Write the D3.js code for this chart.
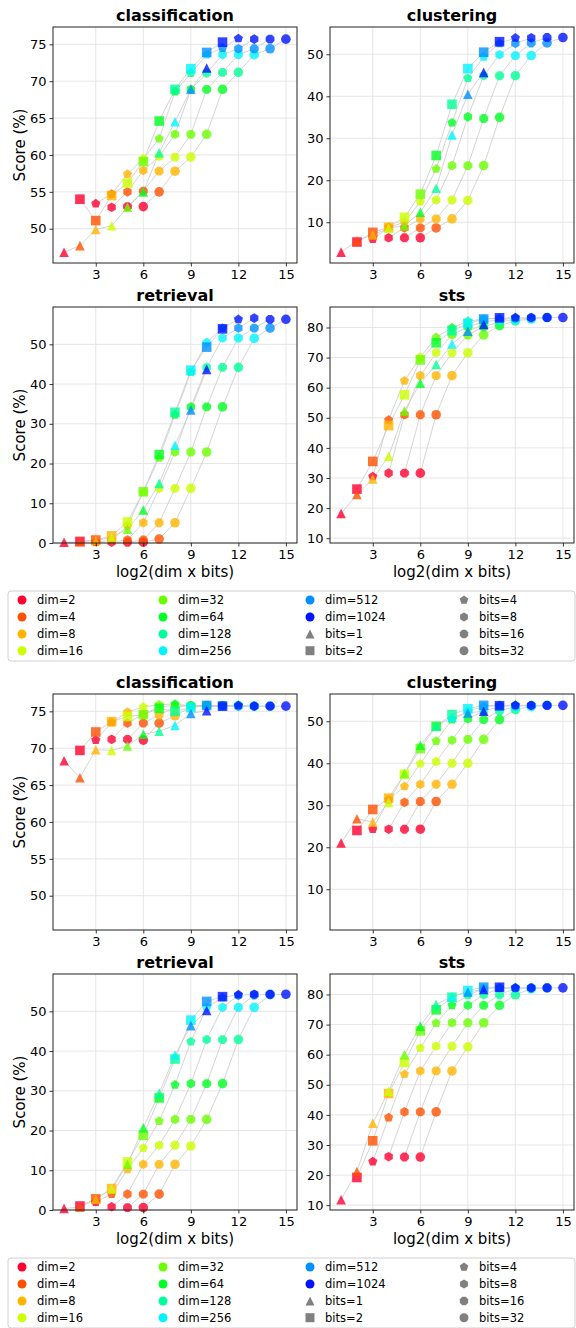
<!DOCTYPE html>
<html>
<head>
<meta charset="utf-8">
<script src="https://cdn.jsdelivr.net/npm/d3@7"></script>
<style>
  body { margin: 0; background: #fff; }
  text { font-family: "DejaVu Sans", sans-serif; fill: #000; }
</style>
</head>
<body>
<div id="chart"></div>
<script>
// categories
var dims = [2, 4, 8, 16, 32, 64, 128, 256, 512, 1024];
var bits = [1, 2, 4, 8, 16, 32];
var tasks = ["classification", "clustering", "retrieval", "sts"];

// tick labels
var xTicks = [3, 6, 9, 12, 15];
var classTicks = [50, 55, 60, 65, 70, 75];
var clusterTicks = [10, 20, 30, 40, 50];
var retrievalTicks = [0, 10, 20, 30, 40, 50];
var stsTicks = [10, 20, 30, 40, 50, 60, 70, 80];

// scores, one row per dim, one column per bits (1,2,4,8,16,32)
// upper figure
var topClassification = [
  [46.8, 54.0, 53.4, 52.9, 53.0, 53.0],
  [47.7, 51.1, 54.7, 55.0, 55.1, 55.0],
  [49.9, 54.5, 57.4, 57.9, 57.8, 57.8],
  [50.4, 56.2, 59.5, 59.8, 59.7, 59.7],
  [52.9, 59.1, 62.2, 62.8, 62.8, 62.8],
  [55.0, 64.6, 68.6, 68.9, 68.9, 68.9],
  [60.3, 68.9, 71.1, 71.1, 71.2, 71.2],
  [64.5, 71.7, 73.6, 73.6, 73.6, 73.6],
  [68.9, 73.9, 74.5, 74.4, 74.4, 74.4],
  [71.8, 75.3, 75.8, 75.7, 75.7, 75.7]
];
var topClustering = [
  [2.9, 5.3, 6.0, 6.3, 6.3, 6.3],
  [5.6, 7.6, 8.8, 8.65, 8.65, 8.65],
  [7.0, 8.8, 10.0, 10.8, 10.8, 10.8],
  [8.6, 11.2, 14.9, 15.3, 15.3, 15.2],
  [9.2, 16.7, 22.7, 23.5, 23.5, 23.5],
  [12.4, 25.9, 33.7, 35.1, 34.7, 35.0],
  [18.1, 38.1, 44.3, 44.9, 44.9, 44.9],
  [30.8, 46.6, 49.4, 49.9, 49.7, 49.7],
  [40.5, 50.5, 52.6, 52.6, 52.7, 52.7],
  [45.7, 53.0, 53.9, 53.9, 54.0, 54.0]
];
var topRetrieval = [
  [0.2, 0.4, 0.2, 0.2, 0.2, 0.2],
  [0.3, 0.75, 0.7, 0.75, 0.75, 1.0],
  [0.6, 1.8, 4.3, 5.1, 5.1, 5.1],
  [1.4, 5.3, 12.8, 13.75, 13.75, 13.75],
  [3.5, 12.9, 21.4, 22.9, 22.9, 22.9],
  [8.3, 22.25, 32.25, 34.25, 34.25, 34.25],
  [15.0, 32.9, 43.0, 44.2, 44.2, 44.2],
  [24.6, 43.5, 50.5, 51.6, 51.6, 51.5],
  [33.5, 49.3, 54.1, 54.1, 54.1, 54.1],
  [43.7, 53.9, 56.3, 56.6, 56.3, 56.3]
];
var topSts = [
  [18.2, 26.3, 30.5, 31.6, 31.6, 31.6],
  [24.5, 35.5, 49.3, 51.0, 51.0, 51.0],
  [29.7, 47.4, 62.3, 64.0, 64.0, 64.0],
  [37.2, 57.6, 70.1, 71.6, 71.6, 71.6],
  [52.3, 69.2, 76.7, 77.5, 77.5, 77.5],
  [61.5, 74.9, 79.9, 80.2, 80.2, 80.6],
  [67.7, 78.9, 82.1, 81.9, 81.9, 82.2],
  [74.5, 81.3, 82.8, 82.5, 82.6, 82.8],
  [78.8, 82.8, 83.0, 83.1, 83.2, 83.3],
  [81.0, 83.2, 83.3, 83.3, 83.3, 83.3]
];
// lower figure
var bottomClassification = [
  [68.3, 69.7, 71.1, 71.2, 71.2, 71.1],
  [66.0, 72.2, 73.5, 73.4, 73.4, 73.4],
  [69.8, 73.6, 74.9, 74.6, 74.5, 74.4],
  [69.7, 74.3, 75.6, 75.6, 75.6, 75.6],
  [70.3, 74.55, 75.9, 75.8, 75.8, 75.8],
  [71.9, 75.4, 76.0, 75.8, 75.8, 75.8],
  [72.3, 75.0, 75.7, 75.7, 75.8, 75.8],
  [73.1, 75.5, 75.7, 75.7, 75.7, 75.7],
  [74.7, 75.8, 75.7, 75.7, 75.7, 75.7],
  [75.1, 75.7, 75.8, 75.7, 75.7, 75.7]
];
var bottomClustering = [
  [21.0, 24.0, 24.3, 24.3, 24.3, 24.3],
  [26.8, 29.0, 31.3, 30.7, 30.9, 30.9],
  [26.0, 31.7, 34.5, 35.0, 35.0, 35.0],
  [30.7, 37.4, 39.9, 40.4, 40.0, 40.0],
  [37.6, 43.5, 45.3, 45.5, 45.7, 45.7],
  [44.3, 48.8, 50.4, 50.6, 50.4, 50.4],
  [48.9, 51.6, 52.4, 52.4, 52.5, 52.8],
  [50.9, 53.0, 53.5, 53.5, 53.5, 53.5],
  [52.0, 53.8, 53.8, 53.8, 53.8, 53.8],
  [52.4, 53.7, 53.8, 53.8, 53.8, 53.8]
];
var bottomRetrieval = [
  [0.4, 1.0, 2.0, 0.8, 0.6, 0.6],
  [0.7, 2.8, 4.0, 4.0, 4.0, 4.0],
  [2.7, 5.4, 10.2, 11.5, 11.5, 11.5],
  [5.3, 12.1, 15.6, 16.3, 16.3, 16.1],
  [11.5, 18.8, 22.4, 22.8, 22.8, 22.8],
  [20.7, 28.2, 31.5, 31.8, 31.8, 31.8],
  [29.4, 38.0, 42.4, 42.9, 42.9, 42.9],
  [39.0, 47.8, 50.9, 51.0, 51.0, 51.0],
  [46.4, 52.5, 53.5, 54.0, 54.1, 54.2],
  [50.2, 53.7, 54.2, 54.3, 54.3, 54.3]
];
var bottomSts = [
  [11.8, 19.2, 24.5, 26.1, 26.0, 26.0],
  [21.2, 31.4, 39.1, 41.0, 41.0, 41.0],
  [37.2, 47.1, 53.5, 54.6, 54.6, 54.6],
  [47.9, 57.4, 62.2, 62.8, 62.8, 62.6],
  [60.0, 67.9, 70.5, 70.6, 70.6, 70.6],
  [69.5, 74.9, 76.4, 76.4, 76.4, 76.4],
  [76.7, 79.1, 79.7, 79.9, 79.9, 79.9],
  [79.3, 81.3, 82.0, 82.0, 82.0, 81.9],
  [80.8, 82.4, 82.2, 82.2, 82.2, 82.2],
  [81.7, 82.4, 82.2, 82.2, 82.2, 82.2]
];

// colours per dim (rainbow)
var dimColors = ["#ff0030", "#ff5000", "#ffb400", "#ccff00", "#6aff00",
                 "#00ff22", "#00ff99", "#00f4ff", "#0090ff", "#0014ff"];

var width = 576, height = 1328;
var colX = [53, 330], rowY = [27, 307];
var panelW = 244, panelH = 236;
var figOffsets = [0, 667];

var figures = [
  {classification: topClassification, clustering: topClustering, retrieval: topRetrieval, sts: topSts},
  {classification: bottomClassification, clustering: bottomClustering, retrieval: bottomRetrieval, sts: bottomSts}
];
var yTickSets = {classification: classTicks, clustering: clusterTicks, retrieval: retrievalTicks, sts: stsTicks};
var yLims = {classification: [45.35, 77.35], clustering: [0.3, 56.5], retrieval: [0, 59.4], sts: [8.4, 86.8]};

var svg = d3.select("#chart")
  .append("svg")
    .attr("width", width)
    .attr("height", height);

// marker shapes like matplotlib ^ s p h 8 o
var ms = 9.6;
function polygon(n, r, rot) {
  var pts = d3.range(n).map(function(k) {
    var a = rot + 2 * Math.PI * k / n;
    return [r * Math.sin(a), -r * Math.cos(a)];
  });
  return "M" + pts.map(function(p) { return p[0].toFixed(2) + "," + p[1].toFixed(2); }).join("L") + "Z";
}
function markerPath(j, s) {
  var h = s / 2;
  if (j === 0) return "M0," + (-h) + "L" + (-h) + "," + h + "L" + h + "," + h + "Z";
  if (j === 1) return "M" + (-h) + "," + (-h) + "H" + h + "V" + h + "H" + (-h) + "Z";
  if (j === 2) return polygon(5, h, 0);
  if (j === 3) return polygon(6, h, 0);
  if (j === 4) return polygon(8, h, Math.PI / 8);
  return d3.symbol(d3.symbolCircle, Math.PI * h * h)();
}

figures.forEach(function(fig, fi) {
  var oy = figOffsets[fi];

  tasks.forEach(function(task, ti) {
    var col = ti % 2, row = Math.floor(ti / 2);
    var x0 = colX[col], y0 = rowY[row] + oy;
    var scores = fig[task];

    var x = d3.scaleLinear().domain([0.3, 15.7]).range([x0, x0 + panelW]);
    var y = d3.scaleLinear().domain(yLims[task]).range([y0 + panelH, y0]);

    var g = svg.append("g");

    // grid
    g.selectAll(".gx").data(xTicks).enter().append("line")
      .attr("x1", function(d) { return x(d); }).attr("x2", function(d) { return x(d); })
      .attr("y1", y0).attr("y2", y0 + panelH)
      .attr("stroke", "#e3e3e3").attr("stroke-width", 0.9);
    g.selectAll(".gy").data(yTickSets[task]).enter().append("line")
      .attr("x1", x0).attr("x2", x0 + panelW)
      .attr("y1", function(d) { return y(d); }).attr("y2", function(d) { return y(d); })
      .attr("stroke", "#e3e3e3").attr("stroke-width", 0.9);

    // one gray line per bits value, across dims
    var line = d3.line()
      .x(function(d) { return x(d.x); })
      .y(function(d) { return y(d.v); });
    bits.forEach(function(b, j) {
      var pts = dims.map(function(dm, i) {
        return {x: Math.log2(dm) + Math.log2(b), v: scores[i][j]};
      });
      g.append("path")
        .attr("d", line(pts))
        .attr("fill", "none")
        .attr("stroke", "#c9c9c9")
        .attr("stroke-width", 0.8);
    });

    // markers
    dims.forEach(function(dm, i) {
      bits.forEach(function(b, j) {
        g.append("path")
          .attr("d", markerPath(j, ms))
          .attr("transform", "translate(" + x(Math.log2(dm) + Math.log2(b)) + "," + y(scores[i][j]) + ")")
          .attr("fill", dimColors[i])
          .attr("fill-opacity", 0.8);
      });
    });

    // axes
    var xAxis = g.append("g")
      .attr("transform", "translate(0," + (y0 + panelH) + ")")
      .call(d3.axisBottom(x).tickValues(xTicks).tickSize(3.5).tickPadding(3));
    var yAxis = g.append("g")
      .attr("transform", "translate(" + x0 + ",0)")
      .call(d3.axisLeft(y).tickValues(yTickSets[task]).tickSize(3.5).tickPadding(3));
    [xAxis, yAxis].forEach(function(a) {
      a.select(".domain").remove();
      a.selectAll("text").style("font-size", "13px").style("font-family", "DejaVu Sans");
      a.selectAll("line").attr("stroke", "#000").attr("stroke-width", 0.8);
    });

    // frame
    g.append("rect")
      .attr("x", x0).attr("y", y0)
      .attr("width", panelW).attr("height", panelH)
      .attr("fill", "none").attr("stroke", "#222").attr("stroke-width", 1);

    // title
    g.append("text")
      .attr("x", x0 + panelW / 2).attr("y", y0 - 6)
      .attr("text-anchor", "middle")
      .style("font-size", "16px").style("font-weight", "bold")
      .text(task);

    if (col === 0) {
      g.append("text")
        .attr("transform", "translate(" + 25 + "," + (y0 + panelH / 2) + ") rotate(-90)")
        .attr("text-anchor", "middle")
        .style("font-size", "15px")
        .text("Score (%)");
    }
    if (row === 1) {
      g.append("text")
        .attr("x", x0 + panelW / 2).attr("y", y0 + panelH + 34)
        .attr("text-anchor", "middle")
        .style("font-size", "15px")
        .text("log2(dim x bits)");
    }
  });

  // legend
  var lg = svg.append("g");
  lg.append("rect")
    .attr("x", 8).attr("y", 591 + oy)
    .attr("width", 567).attr("height", 70)
    .attr("rx", 3)
    .attr("fill", "#fff").attr("stroke", "#d0d0d0").attr("stroke-width", 1);

  var entries = dims.map(function(dm, i) {
    return {label: "dim=" + dm, color: dimColors[i], shape: 5};
  }).concat(bits.map(function(b, j) {
    return {label: "bits=" + b, color: "#808080", shape: j};
  }));
  var legMarkX = [22, 163, 310, 464], legTextX = [37, 178, 325, 479];
  var legRowY = [600, 617, 634, 650.7];

  entries.forEach(function(e, k) {
    var c = Math.floor(k / 4), r = k % 4;
    lg.append("path")
      .attr("d", markerPath(e.shape, 9))
      .attr("transform", "translate(" + legMarkX[c] + "," + (legRowY[r] + oy) + ")")
      .attr("fill", e.color);
    lg.append("text")
      .attr("x", legTextX[c]).attr("y", legRowY[r] + oy)
      .attr("dy", "0.35em")
      .style("font-size", "11.5px")
      .text(e.label);
  });
});
</script>
</body>
</html>
